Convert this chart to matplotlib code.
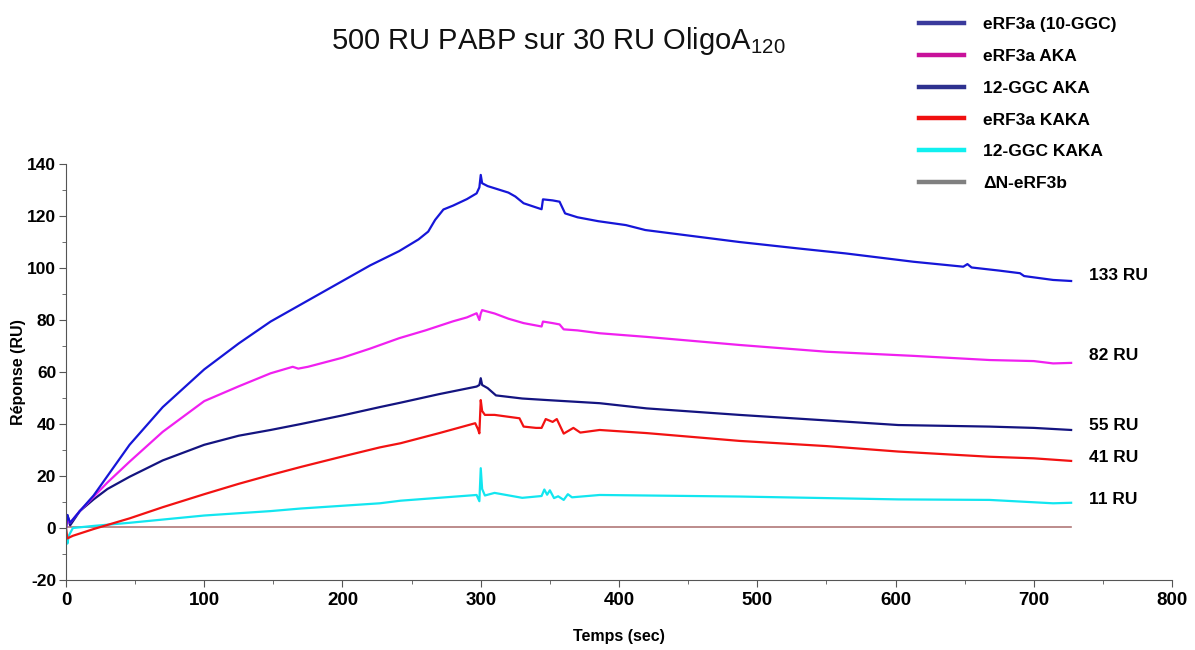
import matplotlib
matplotlib.use("Agg")
import matplotlib.pyplot as plt
from matplotlib.lines import Line2D
from matplotlib.ticker import MultipleLocator

plt.rcParams["font.family"] = ["Liberation Sans", "DejaVu Sans"]
plt.rcParams["mathtext.fontset"] = "custom"
plt.rcParams["mathtext.rm"] = "Liberation Sans"
plt.rcParams["mathtext.it"] = "Liberation Sans"
plt.rcParams["axes.unicode_minus"] = False

# data (time in s, response in RU)
t_blue = [0, 1, 3, 10, 20, 30, 46, 70, 100, 125, 148, 170, 200, 220, 241, 255, 262,
          267, 273, 280, 290, 297, 299, 300, 301, 305, 320, 325, 331, 340, 344, 345,
          352, 357, 361, 370, 385, 405, 419, 450, 487, 530, 564, 613, 649, 652, 655,
          675, 690, 693, 714, 727]
y_blue = [0, 5, 2, 6.5, 12.5, 20, 32, 46.5, 61, 71, 79.4, 86, 95, 101, 106.5, 111, 114,
          118.5, 122.5, 124, 126.5, 128.7, 131, 135.8, 132.6, 131.5, 129, 127.5, 124.9,
          123.3, 122.6, 126.4, 126, 125.5, 121, 119.5, 118, 116.5, 114.6, 112.5, 110,
          107.5, 105.6, 102.4, 100.5, 101.5, 100.2, 99, 98, 96.9, 95.4, 95]

t_mag = [0, 1, 3, 10, 20, 30, 46, 70, 100, 125, 148, 164, 168, 175, 200, 220, 241, 260,
         280, 290, 297, 299, 300, 301, 303, 310, 320, 331, 344, 345, 352, 357, 360, 370,
         386, 420, 487, 550, 613, 668, 700, 714, 727]
y_mag = [0, 3, 2, 6.5, 12, 17.5, 25.5, 37, 48.8, 54.5, 59.5, 62, 61.3, 62, 65.5, 69, 73,
         76, 79.5, 81, 82.6, 80, 82.5, 83.8, 83.5, 82.5, 80.5, 78.8, 77.5, 79.4, 78.8,
         78.3, 76.4, 76, 74.9, 73.5, 70.4, 67.8, 66.2, 64.6, 64.2, 63.3, 63.5]

t_navy = [0, 1, 3, 10, 20, 30, 46, 70, 100, 125, 148, 170, 200, 227, 242, 270, 297, 299,
          300, 301, 305, 311, 330, 348, 386, 420, 487, 564, 602, 668, 700, 727]
y_navy = [0, 5, 1, 6.5, 11, 15, 19.7, 26, 32, 35.5, 37.7, 40, 43.3, 46.5, 48.2, 51.5,
          54.4, 55, 57.6, 55, 53.8, 51, 49.8, 49.2, 48, 46, 43.5, 40.9, 39.6, 39, 38.5,
          37.7]

t_red = [0, 1, 5, 20, 46, 70, 100, 125, 148, 170, 200, 227, 242, 270, 296, 298, 299,
         300, 301, 303, 310, 328, 331, 340, 344, 347, 352, 355, 360, 367, 372, 386, 420,
         487, 550, 602, 668, 700, 727]
y_red = [0, -4, -3, -0.4, 3.7, 8, 13, 17, 20.4, 23.5, 27.5, 31, 32.6, 36.5, 40.3, 38,
         36.4, 49.2, 45, 43.5, 43.5, 42.2, 39, 38.5, 38.5, 41.9, 40.8, 41.9, 36.3, 38.5,
         36.7, 37.7, 36.5, 33.5, 31.5, 29.4, 27.4, 26.8, 25.8]

t_cyan = [0, 1, 2, 5, 20, 46, 100, 148, 170, 227, 242, 297, 299, 300, 301, 303, 310, 330,
          344, 346, 348, 350, 353, 356, 360, 363, 366, 386, 487, 602, 668, 714, 727]
y_cyan = [0, -6, -3, 0, 0.8, 2, 4.8, 6.5, 7.5, 9.5, 10.5, 12.7, 10.3, 23, 15, 12.5,
          13.5, 11.6, 12.3, 14.8, 12.8, 14.5, 11.5, 12.2, 10.8, 13, 11.8, 12.7, 12.1, 11,
          10.8, 9.5, 9.7]

t_flat = [0, 727]
y_flat = [0.5, 0.5]

series = ["eRF3a (10-GGC)", "eRF3a AKA", "12-GGC AKA", "eRF3a KAKA", "12-GGC KAKA",
          "ΔN-eRF3b"]
end_labels = ["133 RU", "82 RU", "55 RU", "41 RU", "11 RU"]

line_colors = ["#1616d8", "#f020f0", "#141480", "#f21212", "#12e6f0", "#b07878"]
legend_colors = ["#3a3a9c", "#c8129a", "#2e318f", "#f01010", "#10f0f0", "#808080"]

fig = plt.figure(figsize=(11.95, 6.5), dpi=100)
ax = fig.add_axes([0.0552, 0.1077, 0.9256, 0.64])

ax.plot(t_flat, y_flat, color=line_colors[5], lw=1.2)
ax.plot(t_cyan, y_cyan, color=line_colors[4], lw=1.6)
ax.plot(t_red, y_red, color=line_colors[3], lw=1.6)
ax.plot(t_navy, y_navy, color=line_colors[2], lw=1.6)
ax.plot(t_mag, y_mag, color=line_colors[1], lw=1.6)
ax.plot(t_blue, y_blue, color=line_colors[0], lw=1.6)

ax.set_xlim(0, 800)
ax.set_ylim(-20, 140)
ax.xaxis.set_major_locator(MultipleLocator(100))
ax.xaxis.set_minor_locator(MultipleLocator(50))
ax.yaxis.set_major_locator(MultipleLocator(20))
ax.yaxis.set_minor_locator(MultipleLocator(10))
for s in ["top", "right"]:
    ax.spines[s].set_visible(False)
for s in ["left", "bottom"]:
    ax.spines[s].set_color("#555555")
ax.tick_params(which="major", direction="out", length=5, color="#555555")
ax.tick_params(which="minor", direction="out", length=3, color="#555555")
ax.tick_params(axis="y", labelsize=12.5, pad=2)
ax.tick_params(axis="x", labelsize=13.5, pad=4)
for lab in ax.get_yticklabels() + ax.get_xticklabels():
    lab.set_fontweight("bold")

ax.set_ylabel("Réponse (RU)", fontsize=11.5, fontweight="bold")
ax.yaxis.set_label_coords(-0.036, 0.5)
ax.set_xlabel("Temps (sec)", fontsize=11.5, fontweight="bold", labelpad=14)

label_y = [97, 66.5, 39.5, 27, 11]
for txt, yv in zip(end_labels, label_y):
    ax.text(740, yv, txt, fontsize=12.5, fontweight="bold", ha="left", va="center")

fig.text(0.467, 0.937, "500 RU PABP sur 30 RU OligoA$_{120}$", fontsize=21,
         ha="center", va="center", color="#111111")

handles = [Line2D([], [], color=c, lw=3.2) for c in legend_colors]
fig.legend(handles, series, loc="upper left", bbox_to_anchor=(0.769, 0.974),
           frameon=False, prop={"weight": "bold", "size": 12.5}, handlelength=2.6,
           handletextpad=1.1, labelspacing=0.96, borderpad=0, borderaxespad=0)

fig.savefig("out.png", dpi=100)
